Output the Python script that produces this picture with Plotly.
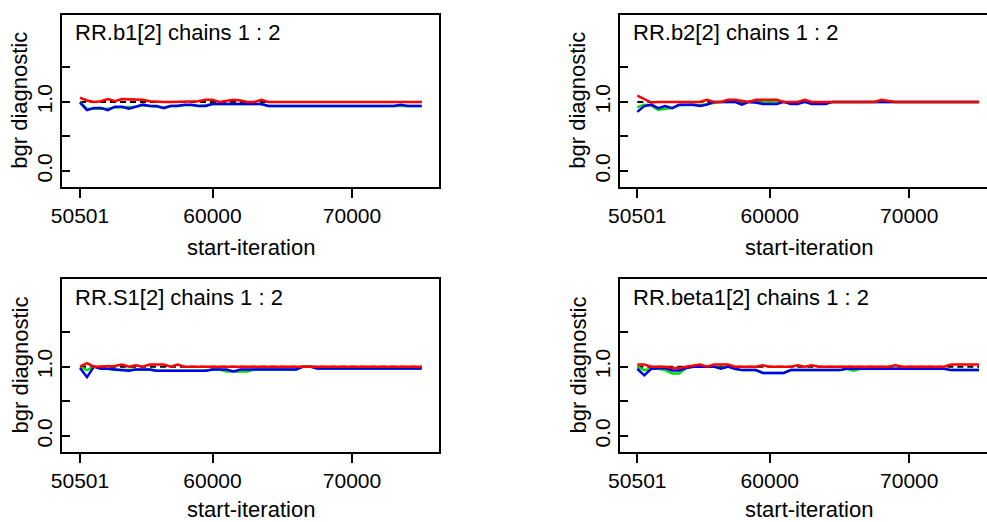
import plotly.graph_objects as go

# start iterations (50 bins of 500)
start_iter = [50501 + 500 * k for k in range(50)]

# RR.b1[2]
green_b1 = [1.00, 0.90, 0.90, 0.90, 0.90, 0.92, 0.92, 0.92, 0.93, 0.95,
            0.94, 0.94, 0.92, 0.94, 0.95, 0.95, 0.95, 0.94, 0.95, 0.97,
            0.97, 0.97, 0.97, 0.97, 0.97, 0.97, 0.97, 0.94] + [0.94] * 18 + [0.93, 0.94, 0.94, 0.94]
blue_b1 = [0.99, 0.88, 0.91, 0.91, 0.88, 0.93, 0.93, 0.90, 0.93, 0.96,
           0.94, 0.94, 0.91, 0.94, 0.94, 0.96, 0.96, 0.94, 0.94, 0.97,
           0.97, 0.97, 0.97, 0.97, 0.97, 0.97, 0.97, 0.94] + [0.94] * 18 + [0.96, 0.94, 0.94, 0.94]
red_b1 = [1.06, 1.02, 1.00, 1.01, 1.04, 1.01, 1.04, 1.04, 1.04, 1.03,
          1.01, 1.00, 1.00, 1.00, 1.00, 1.00, 1.00, 1.01, 1.03, 1.03,
          1.00, 1.01, 1.03, 1.02, 1.00, 1.00, 1.03, 1.00] + [1.00] * 22

# RR.b2[2]
green_b2 = [0.92, 0.96, 0.95, 0.885, 0.90, 0.91, 0.95, 0.96, 0.96, 0.95,
            0.97, 0.99, 1.00, 1.00, 1.00, 0.97, 1.00, 0.99, 0.99, 0.99,
            0.99, 1.00, 0.98, 0.98, 1.00, 0.98, 0.98, 0.98, 1.00, 1.00] + [1.00] * 20
blue_b2 = [0.855, 0.94, 0.96, 0.91, 0.94, 0.91, 0.96, 0.96, 0.96, 0.94,
           0.96, 1.00, 1.00, 1.00, 1.00, 0.96, 1.00, 0.99, 0.97, 0.97,
           0.97, 1.00, 0.97, 0.97, 1.00, 0.97, 0.97, 0.97, 1.00, 1.00] + [1.00] * 20
red_b2 = [1.09, 1.04, 0.99, 1.00, 1.00, 1.00, 1.00, 1.00, 1.00, 1.00,
          1.03, 1.00, 1.00, 1.03, 1.03, 1.02, 1.00, 1.03, 1.03, 1.03,
          1.03, 1.00, 1.00, 1.00, 1.03, 1.00, 1.00, 1.00, 1.00, 1.00,
          1.00, 1.00, 1.00, 1.00, 1.00, 1.03, 1.01, 1.00, 1.00, 1.00] + [1.00] * 10

# RR.S1[2]
green_S1 = [1.00, 0.95, 1.00, 0.97, 0.97, 0.95, 0.95, 0.95, 0.96, 0.96,
            0.96, 0.94, 0.94, 0.94, 0.94, 0.94, 0.94, 0.94, 0.94, 0.96,
            0.96, 0.93, 0.93, 0.93, 0.93, 0.96, 0.96, 0.96, 0.96, 0.96,
            0.96, 0.96, 1.00, 1.00] + [0.975] * 16
blue_S1 = [0.98, 0.85, 1.00, 0.97, 0.97, 0.96, 0.94, 0.94, 0.96, 0.96,
           0.96, 0.94, 0.94, 0.94, 0.94, 0.94, 0.94, 0.94, 0.94, 0.96,
           0.96, 0.96, 0.93, 0.96, 0.96, 0.96, 0.96, 0.96, 0.96, 0.96,
           0.96, 0.96, 1.00, 1.00] + [0.975] * 16
red_S1 = [1.00, 1.05, 1.00, 1.00, 1.00, 1.01, 1.03, 1.00, 1.02, 1.00,
          1.03, 1.03, 1.03, 1.00, 1.03, 1.00] + [1.00] * 34

# RR.beta1[2]
green_beta1 = [1.00, 0.95, 0.97, 0.97, 0.95, 0.90, 0.90, 0.98, 1.00, 1.00,
               1.00, 1.00, 0.98, 1.00, 0.97, 0.95, 0.95, 0.95, 0.91, 0.91,
               0.91, 0.91, 0.95, 0.95, 0.95, 0.95, 0.95, 0.95, 0.95, 0.95,
               0.97, 0.94] + [0.97] * 13 + [0.95] * 5
blue_beta1 = [0.97, 0.875, 0.97, 0.97, 0.98, 0.945, 0.945, 0.98, 1.00, 1.00,
              1.00, 1.00, 0.97, 1.00, 0.97, 0.95, 0.95, 0.95, 0.91, 0.91,
              0.91, 0.91, 0.95, 0.95, 0.95, 0.95, 0.95, 0.95, 0.95, 0.95] + [0.97] * 15 + [0.95] * 5
red_beta1 = [1.03, 1.03, 1.00, 1.00, 1.00, 0.98, 0.98, 1.00, 1.01, 1.03,
             1.00, 1.03, 1.03, 1.03, 1.00, 1.00, 1.00, 1.00, 1.02, 1.00,
             1.00, 1.00, 1.00, 1.02, 1.00, 1.02, 1.00, 1.00, 1.00, 1.00,
             1.00, 1.00, 1.00, 1.00, 1.00, 1.00, 1.00, 1.02, 1.00, 1.00,
             1.00, 1.00, 1.00, 1.00, 1.00, 1.03, 1.03, 1.03, 1.03, 1.03]

titles = ["RR.b1[2] chains 1 : 2", "RR.b2[2] chains 1 : 2",
          "RR.S1[2] chains 1 : 2", "RR.beta1[2] chains 1 : 2"]
series = [(green_b1, blue_b1, red_b1), (green_b2, blue_b2, red_b2),
          (green_S1, blue_S1, red_S1), (green_beta1, blue_beta1, red_beta1)]
x_ticks = [50501, 60000, 70000]
y_ticks = [0, 0.5, 1.0, 1.5]
y_ticktext = ["0.0", "", "1.0", ""]

W, H = 987, 522
FONT = "Liberation Sans, Arial, sans-serif"

# panel boxes in pixels: (left, right, top, bottom)
boxes = [(62, 439, 15, 186.5), (620, 987, 15, 186.5),
         (62, 439, 279.3, 451.7), (620, 987, 279.3, 451.7)]
x_ranges = [[49211, 76238], [49261, 75571], [49211, 76238], [49261, 75571]]
y_range = [-0.224, 2.257]
xtitle_y = [247.5, 247.5, 509.5, 509.5]

fig = go.Figure()
layout = {}
annotations = []

for i, (title, (g, b, r), box, xr) in enumerate(zip(titles, series, boxes, x_ranges)):
    n = "" if i == 0 else str(i + 1)
    xa, ya = "x" + n, "y" + n
    left, right, top, bottom = box
    left_col = left < 300

    fig.add_trace(go.Scatter(x=[start_iter[0], start_iter[-1]], y=[1, 1], xaxis=xa, yaxis=ya,
                             mode="lines", line=dict(color="black", width=2, dash="6px,4px"),
                             showlegend=False, hoverinfo="skip"))
    for vals, col in [(g, "#00e000"), (b, "#0000ee"), (r, "#ff0000")]:
        fig.add_trace(go.Scatter(x=start_iter, y=vals, xaxis=xa, yaxis=ya, mode="lines",
                                 line=dict(color=col, width=2.5), showlegend=False))

    layout["xaxis" + n] = dict(
        domain=[left / W, right / W], range=xr, anchor=ya, automargin=False,
        showline=True, linecolor="black", linewidth=2, mirror=True,
        ticks="outside", ticklen=9, tickwidth=2, tickcolor="black",
        tickvals=x_ticks, ticktext=[str(v) for v in x_ticks],
        tickfont=dict(size=21, color="black", family=FONT),
        showgrid=False, zeroline=False)
    layout["yaxis" + n] = dict(
        domain=[1 - bottom / H, 1 - top / H], range=y_range, anchor=xa, automargin=False,
        showline=True, linecolor="black", linewidth=2, mirror=left_col,
        ticks="inside", ticklen=8, tickwidth=2, tickcolor="black",
        tickvals=y_ticks, ticktext=y_ticktext, tickangle=-90,
        tickfont=dict(size=21, color="black", family=FONT),
        showgrid=False, zeroline=False)

    box_cx = (left + 377 / 2) / W
    annotations.append(dict(text=title, xref="paper", yref="paper",
                            x=(left + 10.5) / W, y=1 - (top + 18) / H,
                            xanchor="left", yanchor="middle", showarrow=False,
                            font=dict(size=22, color="black", family=FONT)))
    annotations.append(dict(text="start-iteration", xref="paper", yref="paper",
                            x=box_cx, y=1 - xtitle_y[i] / H,
                            xanchor="center", yanchor="middle", showarrow=False,
                            font=dict(size=22, color="black", family=FONT)))
    annotations.append(dict(text="bgr diagnostic", xref="paper", yref="paper",
                            x=(left - 42) / W, y=1 - (top + bottom) / 2 / H, textangle=-90,
                            xanchor="center", yanchor="middle", showarrow=False,
                            font=dict(size=22, color="black", family=FONT)))

fig.update_layout(**layout)
fig.update_layout(width=W, height=H, margin=dict(l=0, r=0, t=0, b=0, pad=0, autoexpand=False),
                  paper_bgcolor="white", plot_bgcolor="white",
                  annotations=annotations, showlegend=False,
                  font=dict(family=FONT, color="black"))

# drop the page's default body margin so the figure sits at the window corner
fig.write_html("out.html", config={"displayModeBar": False},
               post_script="document.body.style.margin='0';document.body.style.overflow='hidden';")
